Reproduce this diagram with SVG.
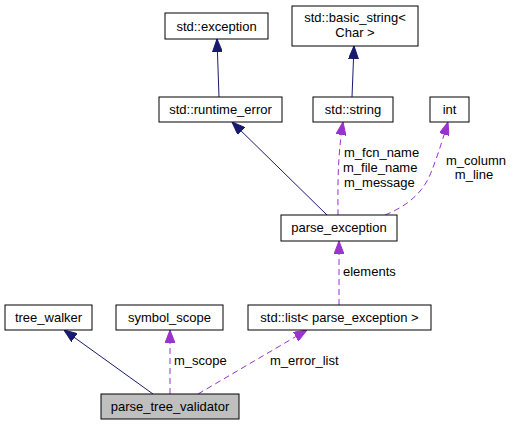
<svg xmlns="http://www.w3.org/2000/svg" width="513" height="425" viewBox="0 0 513 425">
<style>
.n rect{fill:#fff;stroke:#000;stroke-width:1}
.n text,.lbl{font-family:"Liberation Sans",Arial,sans-serif;font-size:13px;fill:#000}
.n text{text-anchor:middle}
.inh{fill:none;stroke:#191970;stroke-width:1}
.use{fill:none;stroke:#9a32cd;stroke-width:1;stroke-dasharray:6,4}
</style>
<defs>
<marker id="ah" markerUnits="userSpaceOnUse" markerWidth="13" markerHeight="10" refX="13" refY="5" orient="auto"><path d="M0,0 L13,5 L0,10 z" fill="#191970" stroke="#191970"/></marker>
<marker id="ap" markerUnits="userSpaceOnUse" markerWidth="13" markerHeight="10" refX="13" refY="5" orient="auto"><path d="M0,0 L13,5 L0,10 z" fill="#9a32cd" stroke="#9a32cd"/></marker>
</defs>
<rect width="513" height="425" fill="#fff"/>
<g id="edges">
<path class="inh" d="M219,97 L217,39" marker-end="url(#ah)"/>
<path class="inh" d="M352,97 L354,46" marker-end="url(#ah)"/>
<path class="inh" d="M327,215 L232,122" marker-end="url(#ah)"/>
<path class="use" d="M338,215 C338,190 337,160 343,122" marker-end="url(#ap)"/>
<path class="use" d="M385,215 C410,205 425,190 432,170 C438,155 444,135 448,122" marker-end="url(#ap)"/>
<path class="use" d="M339,305 L339,241" marker-end="url(#ap)"/>
<path class="inh" d="M153,394 L64,330" marker-end="url(#ah)"/>
<path class="use" d="M170,394 L170,330" marker-end="url(#ap)"/>
<path class="use" d="M198,394 L307,330" marker-end="url(#ap)"/>
<text class="lbl" x="344" y="157">m_fcn_name</text>
<text class="lbl" x="343" y="172">m_file_name</text>
<text class="lbl" x="344" y="187">m_message</text>
<text class="lbl" x="476" y="165" text-anchor="middle">m_column</text>
<text class="lbl" x="474" y="179" text-anchor="middle">m_line</text>
<text class="lbl" x="343" y="276">elements</text>
<text class="lbl" x="174" y="365">m_scope</text>
<text class="lbl" x="270" y="365">m_error_list</text>
</g>
<g id="std_exception" class="n"><rect x="165" y="13" width="103" height="26"/><text x="216.5" y="30.5">std::exception</text></g>
<g id="std_basic_string" class="n"><rect x="292" y="6" width="126" height="40"/><text x="355" y="22">std::basic_string&lt;</text><text x="355" y="37">Char &gt;</text></g>
<g id="std_runtime_error" class="n"><rect x="159" y="97" width="123" height="25"/><text x="220.5" y="114">std::runtime_error</text></g>
<g id="std_string" class="n"><rect x="313" y="97" width="80" height="25"/><text x="353" y="114">std::string</text></g>
<g id="int" class="n"><rect x="430" y="97" width="39" height="25"/><text x="449.5" y="114">int</text></g>
<g id="parse_exception" class="n"><rect x="281" y="215" width="116" height="26"/><text x="339" y="232">parse_exception</text></g>
<g id="tree_walker" class="n"><rect x="5" y="305" width="87" height="25"/><text x="48.5" y="322">tree_walker</text></g>
<g id="symbol_scope" class="n"><rect x="116" y="305" width="107" height="25"/><text x="169.5" y="322">symbol_scope</text></g>
<g id="std_list" class="n"><rect x="248" y="305" width="183" height="25"/><text x="339.5" y="322">std::list&lt; parse_exception &gt;</text></g>
<g id="parse_tree_validator" class="n"><rect x="101" y="394" width="138" height="25" style="fill:#bfbfbf"/><text x="170" y="411">parse_tree_validator</text></g>
</svg>
